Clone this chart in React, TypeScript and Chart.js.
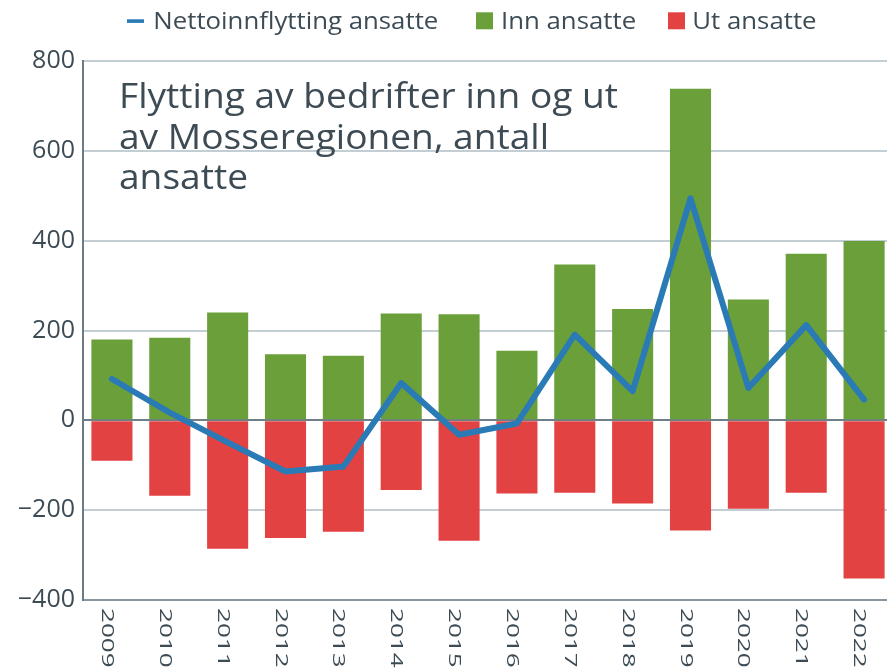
import React, { useEffect, useRef } from "react";
import { Chart, registerables } from "chart.js";

Chart.register(...registerables);

const years = ["2009", "2010", "2011", "2012", "2013", "2014", "2015", "2016", "2017", "2018", "2019", "2020", "2021", "2022"];
const innAnsatte = [180, 184, 240, 147, 144, 238, 236, 155, 347, 248, 738, 269, 371, 399];
const utAnsatte = [-90, -168, -286, -262, -248, -155, -268, -163, -161, -185, -245, -197, -161, -352];
const nettoinnflytting = [92, 17, -49, -114, -103, 83, -32, -7, 191, 65, 494, 72, 212, 46];
const yTicks = [-400, -200, 0, 200, 400, 600, 800];
const titleLines = ["Flytting av bedrifter inn og ut", "av Mosseregionen, antall", "ansatte"];
const seriesNames = ["Nettoinnflytting ansatte", "Inn ansatte", "Ut ansatte"];

const TEXT = "#3d4b55";
const GREEN = "#6a9f3a";
const RED = "#e34242";
const BLUE = "#2a7ab6";
const FONT = "'Open Sans', 'Noto Sans', sans-serif";

const overlay = {
  id: "overlay",
  afterDraw(chart: any) {
    const ctx = chart.ctx as CanvasRenderingContext2D;
    const xs = chart.scales.x;
    // x labels, rotated clockwise
    ctx.save();
    ctx.fillStyle = TEXT;
    ctx.font = `25px ${FONT}`;
    ctx.textAlign = "left";
    ctx.textBaseline = "alphabetic";
    years.forEach((y, i) => {
      const cx = xs.getPixelForValue(i) - 4;
      const w = ctx.measureText(y).width;
      const sLen = 59.5 / w;
      const sH = 0.66;
      ctx.save();
      ctx.translate(cx, 608);
      ctx.rotate(Math.PI / 2);
      ctx.scale(sLen, sH);
      ctx.fillText(y, 0, 0.714 * 25 / 2);
      ctx.restore();
    });
    ctx.restore();

    // title
    ctx.save();
    ctx.fillStyle = TEXT;
    ctx.font = `34.5px ${FONT}`;
    ctx.textAlign = "left";
    ctx.textBaseline = "alphabetic";
    const tw = ctx.measureText(titleLines[0]).width;
    const tsx = 499 / tw;
    const baselines = [108, 148.5, 189];
    titleLines.forEach((t, i) => {
      ctx.save();
      ctx.translate(119, baselines[i]);
      ctx.scale(tsx, 1);
      ctx.fillText(t, 0, 0);
      ctx.restore();
    });
    ctx.restore();

    // legend
    ctx.save();
    ctx.font = `23.5px ${FONT}`;
    ctx.textAlign = "left";
    ctx.textBaseline = "alphabetic";
    const lw = ctx.measureText(seriesNames[0]).width;
    const lsx = 285 / lw;
    ctx.fillStyle = BLUE;
    ctx.fillRect(127, 19.3, 17, 3.6);
    ctx.fillStyle = GREEN;
    ctx.fillRect(476, 12.3, 17, 17);
    ctx.fillStyle = RED;
    ctx.fillRect(668, 12.3, 17, 17);
    ctx.fillStyle = TEXT;
    const lx = [153.3, 501, 692.3];
    seriesNames.forEach((t, i) => {
      ctx.save();
      ctx.translate(lx[i], 29.3);
      ctx.scale(lsx, 1);
      ctx.fillText(t, 0, 0);
      ctx.restore();
    });
    ctx.restore();
  },
};

export default function App() {
  const ref = useRef<HTMLCanvasElement | null>(null);
  useEffect(() => {
    if (!ref.current) return;
    const chart = new Chart(ref.current, {
      type: "bar",
      data: {
        labels: years,
        datasets: [
          {
            type: "line",
            label: seriesNames[0],
            data: nettoinnflytting,
            borderColor: BLUE,
            backgroundColor: BLUE,
            borderWidth: 6,
            pointRadius: 0,
            tension: 0,
            borderCapStyle: "round",
            borderJoinStyle: "round",
            stack: "net",
            order: 0,
          } as any,
          {
            type: "bar",
            label: seriesNames[1],
            data: innAnsatte,
            backgroundColor: GREEN,
            stack: "bars",
            order: 1,
            barPercentage: 0.71,
            categoryPercentage: 1,
          },
          {
            type: "bar",
            label: seriesNames[2],
            data: utAnsatte,
            backgroundColor: RED,
            stack: "bars",
            order: 1,
            barPercentage: 0.71,
            categoryPercentage: 1,
          },
        ],
      },
      options: {
        responsive: false,
        animation: false,
        devicePixelRatio: 1,
        layout: { padding: { top: 61, left: 0, right: 0, bottom: 0 } },
        plugins: {
          legend: { display: false },
          tooltip: { enabled: false },
          title: { display: false },
        },
        scales: {
          x: {
            stacked: true,
            grid: { display: false },
            border: { color: "#8795a0", width: 2 },
            ticks: { display: false },
            afterFit: (s: any) => {
              s.height = 70;
            },
          },
          y: {
            stacked: true,
            min: yTicks[0],
            max: yTicks[yTicks.length - 1],
            afterBuildTicks: (s: any) => {
              s.ticks = yTicks.map((v) => ({ value: v }));
            },
            ticks: {
              color: TEXT,
              font: { family: FONT, size: 25 },
              padding: 8,
              callback: (v: any) => (Number(v) < 0 ? "\u2212" + Math.abs(Number(v)) : String(v)),
            },
            grid: {
              drawTicks: false,
              lineWidth: 2,
              color: (c: any) => (c.tick && c.tick.value === 0 ? "#6f7e87" : "#c3ced4"),
            },
            border: { color: "#6b7a83", width: 2 },
            afterFit: (s: any) => {
              s.width = 83;
            },
          },
        },
      },
      plugins: [overlay],
    });
    return () => chart.destroy();
  }, []);
  return (
    <div style={{ position: "fixed", left: 0, top: 0, width: 887, height: 670, overflow: "hidden", background: "#fff" }}>
      <canvas ref={ref} width={893} height={670} style={{ display: "block" }} />
    </div>
  );
}
